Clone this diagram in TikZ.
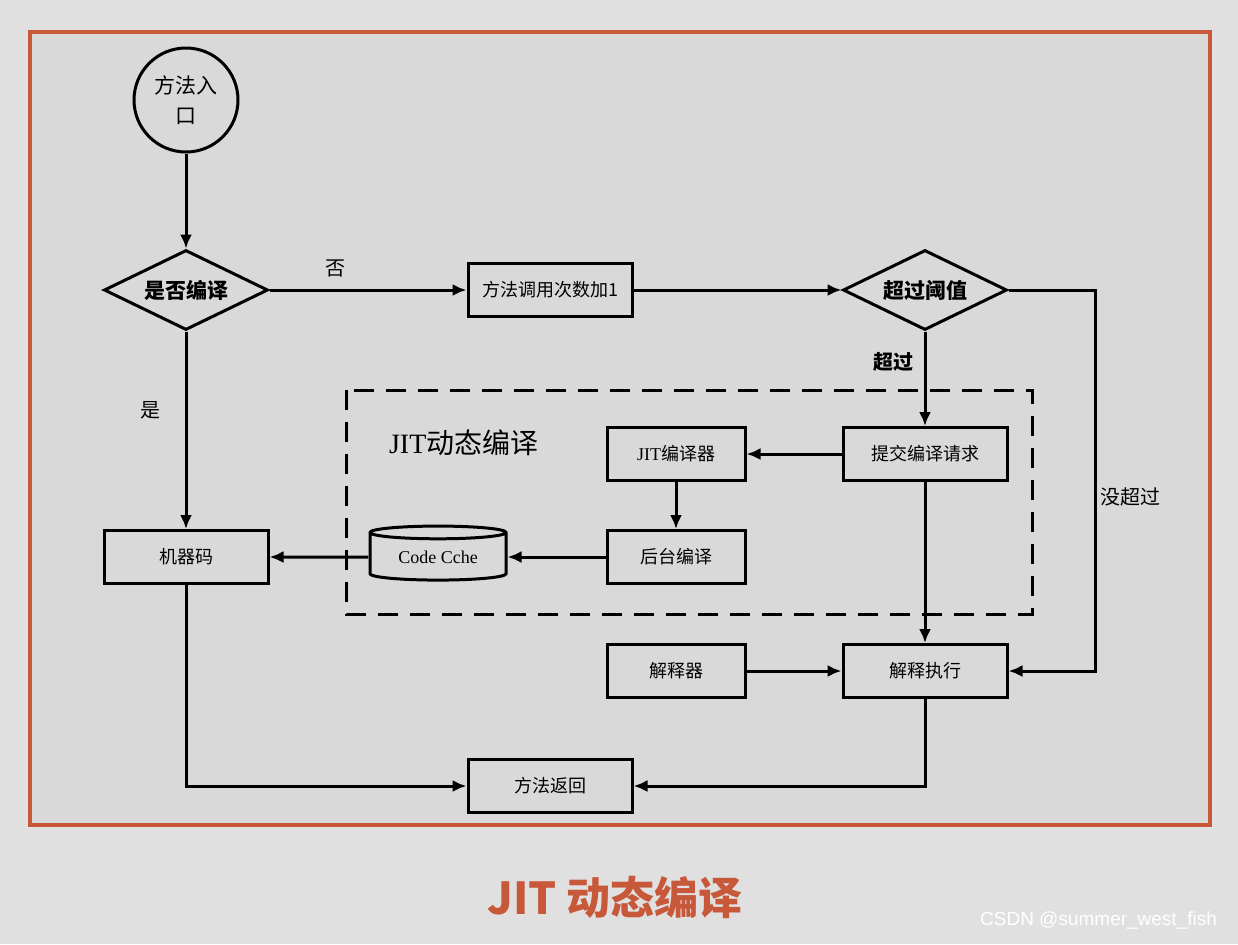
\documentclass[tikz,border=0pt]{standalone}
\usepackage{fontspec}
\setmainfont{Liberation Serif}
\newfontfamily\cjk{Noto Sans CJK SC}
\newfontfamily\wmfont{Liberation Sans}
\usetikzlibrary{shapes.geometric, arrows.meta}
\definecolor{framecol}{RGB}{200,88,58}
\definecolor{bgout}{RGB}{224,224,224}
\definecolor{bgin}{RGB}{217,217,217}

\begin{document}
\begin{tikzpicture}[x=0.5pt, y=-0.5pt,
    box/.style={draw, line width=1.5pt, minimum width=82pt, minimum height=26.5pt, inner sep=0pt, font=\cjk\fontsize{9}{11}\selectfont},
    smallbox/.style={box, minimum width=69pt},
    decision/.style={draw, diamond, line width=1.5pt, aspect=2, minimum width=82pt, minimum height=40pt, inner sep=0pt, font=\cjk\bfseries\fontsize{10.5}{12}\selectfont},
    lbl/.style={font=\cjk\fontsize{10}{12}\selectfont},
    arr/.style={draw, line width=1.5pt, -{Latex[length=7pt, width=6pt]}}]
  \useasboundingbox (0,0) rectangle (1238,944);
  \fill[bgout] (0,0) rectangle (1238,944);
  \fill[bgin] (30,32) rectangle (1210,825);
  \draw[framecol, line width=1.6pt] (30,32) rectangle (1210,825);

  \node [circle, draw, line width = 1.5pt, minimum size = 52pt, inner sep = 0pt, align = center, font = \cjk\fontsize{10.5}{15}\selectfont] (entry) at (186, 100) {方法入\\口};
  \node [decision] (compiled) at (186, 290) {是否编译};
  \node [box] (count) at (550, 290) {方法调用次数加1};
  \node [decision] (thresh) at (925, 290) {超过阈值};
  \node [box] (submit) at (925, 454) {提交编译请求};
  \node [smallbox] (jitc) at (676, 454) {{\rmfamily JIT}编译器};
  \node [smallbox] (backend) at (676, 557) {后台编译};
  \node [cylinder, shape border rotate = 90, draw, line width = 1.5pt, aspect = 0.16, minimum width = 68pt, minimum height = 27pt, inner sep = 0pt, font = \fontsize{9}{11}\selectfont] (cache) at (438, 557) {Code Cche};
  \node [box] (machine) at (186, 557) {机器码};
  \node [smallbox] (interpreter) at (676, 671) {解释器};
  \node [box] (exec) at (925, 671) {解释执行};
  \node [box] (ret) at (550, 786) {方法返回};

  \draw[dashed, line width = 1.5pt, dash pattern = on 10pt off 6pt] (346, 390) rectangle (1032, 614);
  \node [font = \fontsize{14}{16}\selectfont, anchor = west] (jitlabel) at (382, 443) {JIT{\cjk 动态编译}};

  \node [lbl] (no) at (335, 268) {否};
  \node [lbl] (yes) at (150, 410) {是};
  \node [lbl, font = \cjk\bfseries\fontsize{10}{12}\selectfont] (over) at (893, 362) {超过};
  \node [lbl] (notover) at (1130, 497) {没超过};
  \coordinate (turn) at (1095, 290);

  \draw[arr] (entry) -- (compiled);
  \draw[arr] (compiled) -- (count);
  \draw[arr] (count) -- (thresh);
  \draw[arr] (thresh.east) -- (turn) |- (exec.east);
  \draw[arr] (thresh) -- (submit);
  \draw[arr] (submit) -- (jitc);
  \draw[arr] (jitc) -- (backend);
  \draw[arr] (backend) -- (cache);
  \draw[arr] (cache) -- (machine);
  \draw[arr] (compiled) -- (machine);
  \draw[arr] (machine) |- (ret);
  \draw[arr] (submit) -- (exec);
  \draw[arr] (interpreter) -- (exec);
  \draw[arr] (exec) |- (ret);

  \node [font = \cjk\bfseries\fontsize{22}{25}\selectfont, text = framecol] (title) at (615, 897) {JIT 动态编译};
  \node [font = \wmfont\fontsize{9.5}{11}\selectfont, text = white, anchor = east] (mark) at (1224, 920) {CSDN @summer\_west\_fish};
\end{tikzpicture}
\end{document}
